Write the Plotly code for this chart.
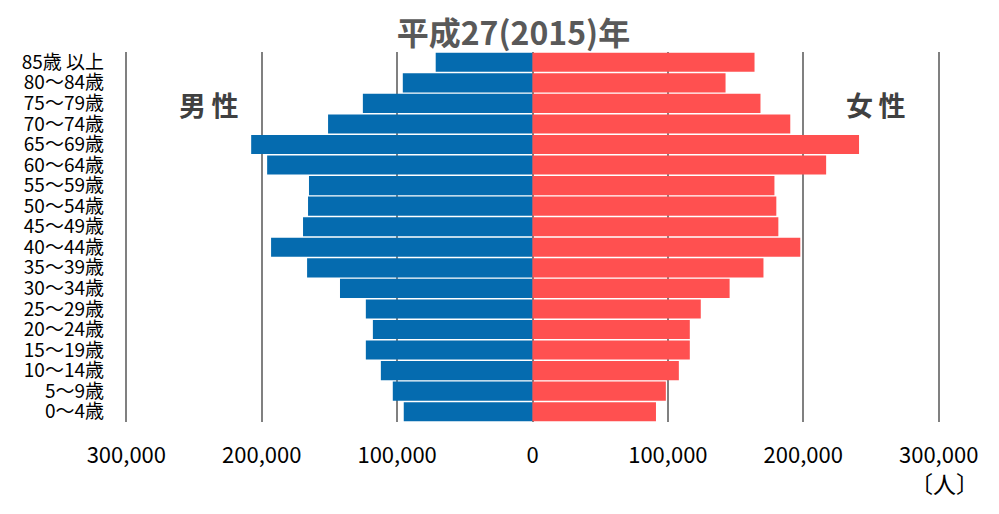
import plotly.graph_objects as go

# age groups, top row first
ages = ['85歳 以上', '80〜84歳', '75〜79歳', '70〜74歳', '65〜69歳', '60〜64歳',
        '55〜59歳', '50〜54歳', '45〜49歳', '40〜44歳', '35〜39歳', '30〜34歳',
        '25〜29歳', '20〜24歳', '15〜19歳', '10〜14歳', '5〜9歳', '0〜4歳']
male = [71500, 95800, 125300, 151000, 207800, 196000, 165100, 165800, 169500,
        193100, 166500, 142200, 123100, 117900, 123100, 112000, 103200, 95100]
female = [164000, 142600, 168400, 190400, 241200, 216900, 178700, 180100, 181600,
          197800, 170600, 145600, 124300, 116200, 116200, 108100, 98500, 91200]
tick_vals = [-300000, -200000, -100000, 0, 100000, 200000, 300000]
tick_text = ['300,000', '200,000', '100,000', '0', '100,000', '200,000', '300,000']

font = 'Noto Sans CJK JP'

fig = go.Figure()
fig.add_trace(go.Bar(y=ages, x=[-v for v in male], orientation='h', name='男性',
                     marker=dict(color='#056BAF', line_width=0)))
fig.add_trace(go.Bar(y=ages, x=female, orientation='h', name='女性',
                     marker=dict(color='#FF5050', line_width=0)))

# page body has an 8px margin, so the figure is 8px smaller than the window
fig.update_layout(
    width=991, height=506,
    barmode='relative', bargap=0.07,
    showlegend=False,
    plot_bgcolor='white', paper_bgcolor='white',
    margin=dict(l=117, r=59, t=44, b=92, autoexpand=False),
    font=dict(family=font, size=20, color='black'),
    title=dict(text='<b>平成27(2015)年</b>', x=0.51, xanchor='center', y=0.95, yanchor='middle',
               font=dict(family=font, size=32, color='#595959')),
)
fig.update_xaxes(range=[-301000, 301000], tickvals=tick_vals, ticktext=tick_text,
                 showgrid=True, gridcolor='#808080', gridwidth=2,
                 zeroline=True, zerolinecolor='#808080', zerolinewidth=2,
                 ticks='', ticklabelstandoff=18, tickfont=dict(size=22))
fig.update_yaxes(autorange='reversed', ticks='', ticklabelstandoff=20,
                 tickmode='linear', dtick=1,
                 showgrid=False, tickfont=dict(size=19))

fig.add_annotation(x=0.103, y=0.857, xref='paper', yref='paper', text='<b>男\u2009性</b>',
                   xanchor='center', yanchor='middle',
                   showarrow=False, font=dict(family=font, size=27, color='#404040'))
fig.add_annotation(x=0.921, y=0.857, xref='paper', yref='paper', text='<b>女\u2009性</b>',
                   xanchor='center', yanchor='middle',
                   showarrow=False, font=dict(family=font, size=27, color='#404040'))
fig.add_annotation(x=1.006, y=-0.165, xref='paper', yref='paper', text='〔人〕',
                   xanchor='center', yanchor='middle',
                   showarrow=False, font=dict(family=font, size=23, color='black'))

fig.write_html('out.html')
